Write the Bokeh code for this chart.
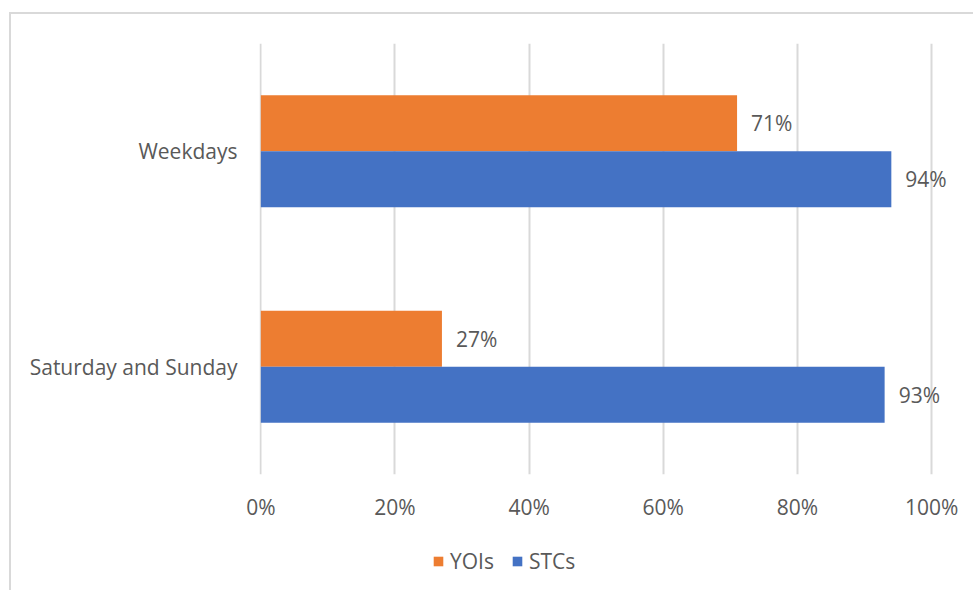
from bokeh.plotting import figure
from bokeh.layouts import column
from bokeh.models import FactorRange, Range1d, Legend, LegendItem, ColumnDataSource, NumeralTickFormatter, LabelSet
from bokeh.core.properties import value
from bokeh.transform import dodge
from bokeh.embed import file_html
from bokeh.resources import INLINE

categories = ["Saturday and Sunday", "Weekdays"]
yois = [0.27, 0.71]
stcs = [0.93, 0.94]
x_ticks = [0, 0.2, 0.4, 0.6, 0.8, 1.0]
series_names = ["YOIs", "STCs"]

FONT = "Open Sans"
FS = "21px"
TXT = "#595959"
ORANGE = "#ED7D31"
BLUE = "#4472C4"

src = ColumnDataSource(dict(
    cat=categories, yois=yois, stcs=stcs,
    yois_lbl=[f"{round(v*100)}%" for v in yois],
    stcs_lbl=[f"{round(v*100)}%" for v in stcs],
))

W, H1, H2 = 962, 518, 58
LEFT, PLOT_W = 248, 672           # frame left edge and pixel width of 0..100%
p = figure(width=W, height=H1, y_range=FactorRange(*categories),
           x_range=Range1d(-0.002, (W - LEFT) / PLOT_W),
           output_backend="svg", toolbar_location=None,
           min_border_left=LEFT, min_border_right=0, min_border_top=29, min_border_bottom=58)

r1 = p.hbar(y=dodge("cat", 0.13, range=p.y_range), right="yois", left=0, height=0.26,
            source=src, fill_color=ORANGE, line_color=None)
r2 = p.hbar(y=dodge("cat", -0.13, range=p.y_range), right="stcs", left=0, height=0.26,
            source=src, fill_color=BLUE, line_color=None)

for col, lbl, off in (("yois", "yois_lbl", 0.13), ("stcs", "stcs_lbl", -0.13)):
    ls = LabelSet(x=col, y=dodge("cat", off, range=p.y_range), text=lbl, source=src,
                  x_offset=14, text_baseline="middle", text_align="left",
                  text_font=value(FONT), text_font_size=FS, text_color=TXT)
    p.add_layout(ls)

p.xaxis.ticker = x_ticks
p.xaxis.formatter = NumeralTickFormatter(format="0%")
p.xaxis.axis_line_color = None
p.xaxis.major_tick_line_color = None
p.xaxis.minor_tick_line_color = None
p.xaxis.major_label_standoff = 12
p.xaxis.major_label_text_font = FONT
p.xaxis.major_label_text_font_size = FS
p.xaxis.major_label_text_color = TXT

p.yaxis.axis_line_color = None
p.yaxis.major_tick_line_color = None
p.yaxis.major_label_standoff = 16
p.yaxis.major_label_text_font = FONT
p.yaxis.major_label_text_font_size = FS
p.yaxis.major_label_text_color = TXT

p.ygrid.grid_line_color = None
p.xgrid.grid_line_color = "#d9d9d9"
p.xgrid.grid_line_width = 2
p.outline_line_color = None
p.background_fill_color = "white"
p.border_fill_color = "white"

# legend strip (its zero-height bars lie outside the visible range; only the legend shows)
p2 = figure(width=W, height=H2, x_range=Range1d(5, 6), y_range=FactorRange(*categories),
            x_axis_type=None, y_axis_type=None, output_backend="svg", toolbar_location=None,
            min_border_left=LEFT, min_border_right=0, min_border_top=0, min_border_bottom=0)
p2.grid.visible = False
p2.outline_line_color = None
p2.background_fill_color = "white"
p2.border_fill_color = "white"
l1 = p2.hbar(y="cat", right="yois", left=0, height=0, source=src, fill_color=ORANGE, line_color=None)
l2 = p2.hbar(y="cat", right="stcs", left=0, height=0, source=src, fill_color=BLUE, line_color=None)
legend = Legend(items=[LegendItem(label=series_names[0], renderers=[l1]),
                       LegendItem(label=series_names[1], renderers=[l2])],
                orientation="horizontal", location=(173, 15),
                label_text_font=FONT, label_text_font_size=FS, label_text_color=TXT,
                glyph_width=12, glyph_height=12, spacing=17, label_standoff=6,
                border_line_color=None, background_fill_alpha=0, margin=0, padding=0)
p2.add_layout(legend, "center")

layout = column(p, p2, spacing=0)
layout.margin = (12, 0, 0, 9)
layout.styles = {"border-left": "2px solid #d9d9d9", "border-top": "2px solid #d9d9d9"}

open("out.html", "w").write(file_html(layout, INLINE))
